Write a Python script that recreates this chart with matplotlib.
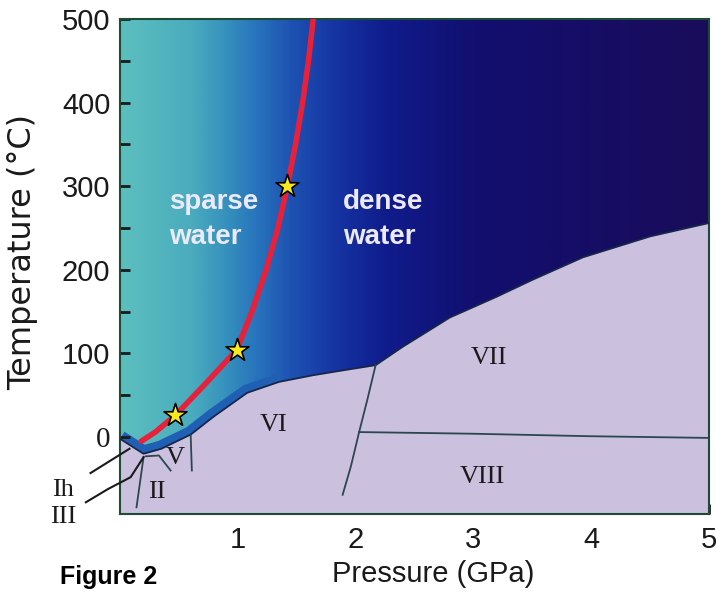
import numpy as np
import matplotlib
matplotlib.use('Agg')
import matplotlib.pyplot as plt
from matplotlib.colors import LinearSegmentedColormap

# melting curve (liquid / ice boundary), pressure in GPa, temperature in C
melt_p = [0, 0.2, 0.35, 0.6, 0.8, 1.08, 1.35, 1.64, 1.9, 2.17, 2.4, 2.8, 3.2, 3.5, 3.93, 4.5, 5.0]
melt_t = [-2, -20, -14, 3, 25, 53, 66, 74, 80, 86, 108, 143, 168, 188, 215, 240, 256]

# red curve separating sparse and dense water
red_p = [0.18, 0.3, 0.47, 0.7, 0.99, 1.12, 1.24, 1.34, 1.42, 1.49, 1.55, 1.6, 1.64]
red_t = [-5, 6, 26, 60, 104, 150, 200, 250, 300, 350, 400, 450, 500]

# stars on the red curve
star_p = [0.47, 0.99, 1.42]
star_t = [26, 104, 300]

# ice phase boundaries inside the solid region
line_a_p, line_a_t = [0.20, 0.14], [-24, -84]
line_b_p, line_b_t = [0.22, 0.33, 0.43], [-23, -22, -40]
line_c_p, line_c_t = [0.60, 0.61], [2, -40]
line_d_p, line_d_t = [2.17, 2.1, 2.03, 1.96, 1.89], [86, 45, 6, -35, -69]
line_e_p, line_e_t = [2.03, 3.0, 4.0, 5.0], [6, 4, 1, -1]

# leader lines for labels outside the axes
lead_ih_p, lead_ih_t = [-0.25, 0.08], [-43, -14]
lead_iii_p, lead_iii_t = [-0.29, -0.1, 0.09, 0.2], [-78, -62, -48, -24]

phase_names = ['II', 'V', 'VI', 'VII', 'VIII']
phase_p = [0.31, 0.47, 1.30, 3.13, 3.08]
phase_t = [-66, -25, 14, 94, -48]

ymin, ymax = -92, 500

fig = plt.figure(figsize=(7.16, 5.96), dpi=100)
ax = fig.add_axes([120 / 716, 82 / 596, 589 / 716, 495 / 596])

# horizontal gradient for the liquid
stops = [(0.0, '#5cbfbf'), (0.12, '#4aacbd'), (0.18, '#3690bd'), (0.23, '#2874bc'),
         (0.29, '#1e52b2'), (0.36, '#1636a4'), (0.45, '#101c8c'), (0.6, '#120f70'),
         (1.0, '#1a0c5a')]
cmap = LinearSegmentedColormap.from_list('water', stops)
grad = np.linspace(0, 1, 512).reshape(1, -1)
ax.imshow(grad, cmap=cmap, aspect='auto', extent=[0, 5, ymin, ymax], origin='lower', zorder=0)

# darker blue band along the boundary at low pressure
ax.plot(melt_p[:7], melt_t[:7], color='#2060b4', lw=12, solid_capstyle='butt', zorder=1)

# ice region
ax.fill_between(melt_p, melt_t, ymin, color='#cbc1df', zorder=2)
ax.plot(melt_p, melt_t, color='#16264a', lw=1.3, zorder=3)

for px, pt in [(line_a_p, line_a_t), (line_b_p, line_b_t), (line_c_p, line_c_t),
               (line_d_p, line_d_t), (line_e_p, line_e_t)]:
    ax.plot(px, pt, color='#2c4650', lw=1.3, zorder=3)

for px, pt in [(lead_ih_p, lead_ih_t), (lead_iii_p, lead_iii_t)]:
    ax.plot(px, pt, color='#1a1a1a', lw=1.5, zorder=3, clip_on=False)

ax.plot(red_p, red_t, color='#e8203a', lw=4, zorder=4, solid_capstyle='round')
ax.scatter(star_p, star_t, marker='*', s=300, color='#f8e820', edgecolor='black',
           linewidth=1.2, zorder=5)

serif = 'Liberation Serif'
for name, px, pt in zip(phase_names, phase_p, phase_t):
    ax.text(px, pt, name, family=serif, fontsize=19, ha='center', va='center',
            color='#1a1a1a', zorder=6)
ax.text(-0.48, -63, 'Ih', family=serif, fontsize=19, ha='center', va='center',
        color='#1a1a1a', clip_on=False)
ax.text(-0.48, -96, 'III', family=serif, fontsize=19, ha='center', va='center',
        color='#1a1a1a', clip_on=False)

sans = 'Liberation Sans'
for px, label in [(0.415, 'sparse'), (1.89, 'dense')]:
    ax.text(px, 281, label, family=sans, fontsize=20, fontweight='bold',
            color='#eceaf8', ha='left', va='center', zorder=6)
    ax.text(px, 239, 'water', family=sans, fontsize=20, fontweight='bold',
            color='#eceaf8', ha='left', va='center', zorder=6)

ax.set_xlim(0, 5)
ax.set_ylim(ymin, ymax)
ax.set_xticks([1, 2, 3, 4, 5])
ax.set_xticks([0.5, 1.5, 2.5, 3.5, 4.5], minor=True)
ax.set_yticks([0, 100, 200, 300, 400, 500])
ax.set_yticks([-50, 50, 150, 250, 350, 450], minor=True)
ax.tick_params(which='both', direction='in', length=7, width=2, color='#1a1a1a',
               labelsize=21, labelcolor='#1a1a1a')
ax.tick_params(axis='x', pad=9)
ax.tick_params(axis='y', pad=7)
for lab in ax.get_xticklabels() + ax.get_yticklabels():
    lab.set_family(sans)
ax.get_yticklabels()[0].set_family(serif)

for side in ['left', 'bottom', 'right', 'top']:
    ax.spines[side].set_color('#1f4a38')
    ax.spines[side].set_linewidth(1.5)

ax.set_xlabel('Pressure (GPa)', family=sans, fontsize=21, color='#1a1a1a')
ax.xaxis.set_label_coords(0.531, -0.093)
ax.set_ylabel('Temperature (\u00b0C)', family='DejaVu Sans', fontsize=23, color='#1a1a1a')
ax.yaxis.set_label_coords(-0.139, 0.53)

fig.text(60 / 716, 1 - 577 / 596, 'Figure 2', family=sans, fontsize=18,
         fontweight='bold', ha='left', va='center', color='black')

fig.savefig('out.png', dpi=100)
